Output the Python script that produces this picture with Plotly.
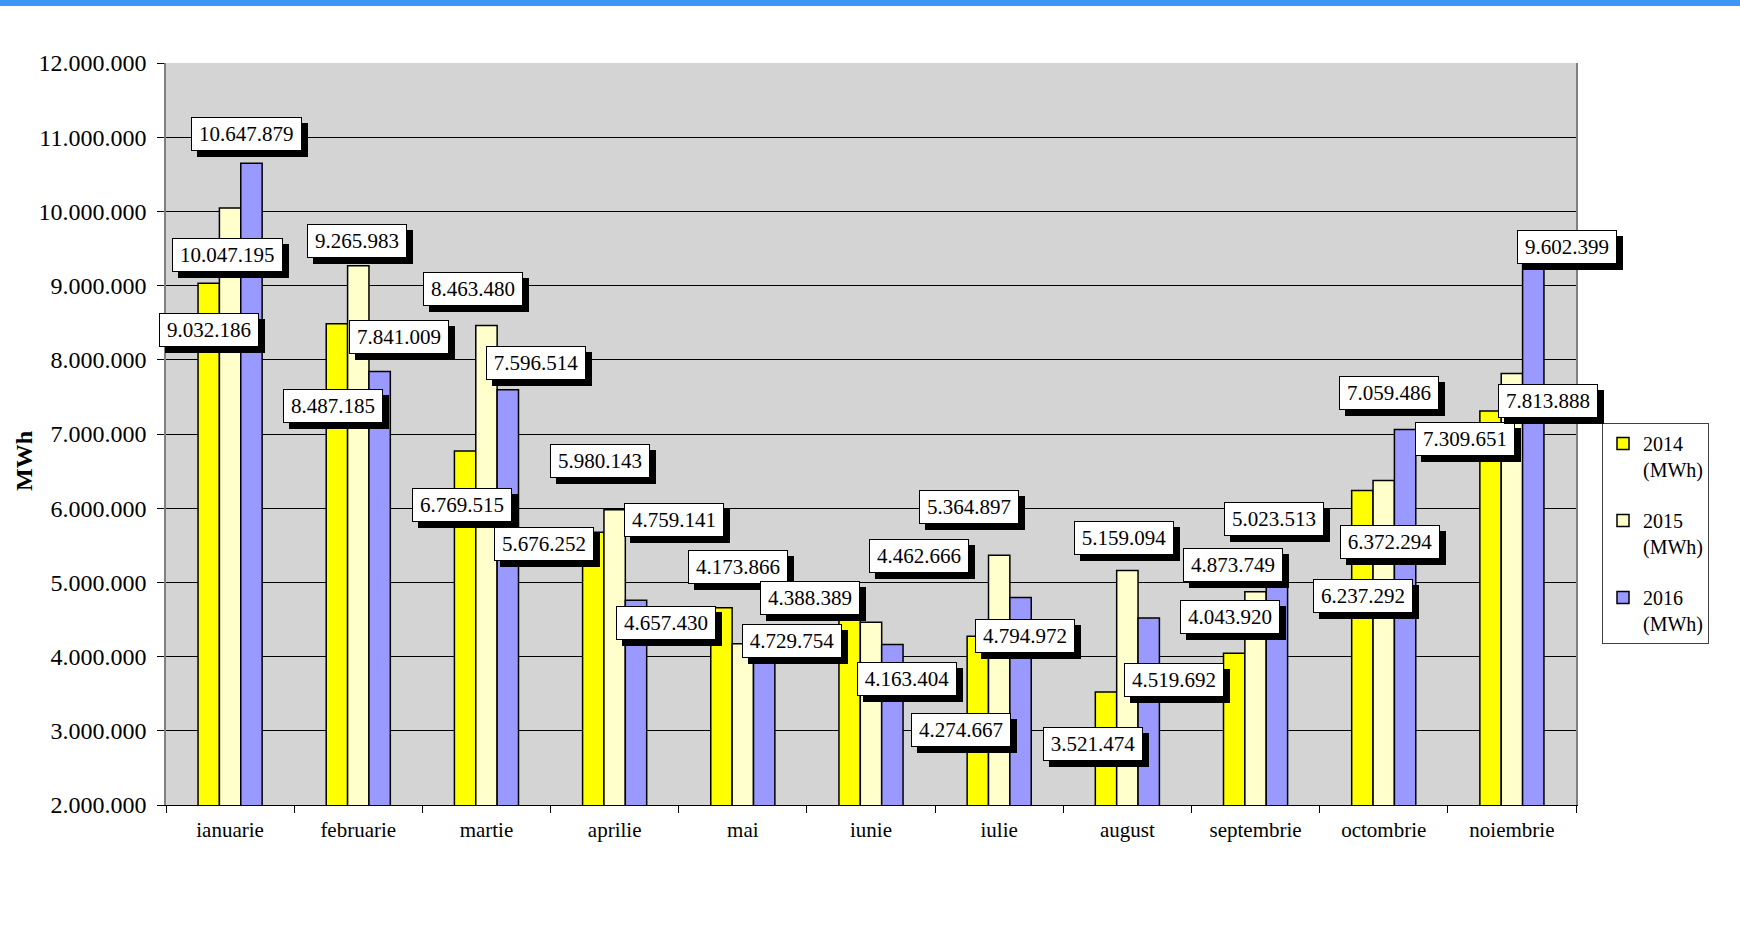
import plotly.graph_objects as go

# date
luni = ["ianuarie", "februarie", "martie", "aprilie", "mai", "iunie",
        "iulie", "august", "septembrie", "octombrie", "noiembrie"]
v2014 = [9032186, 8487185, 6769515, 5676252, 4657430, 4729754,
         4274667, 3521474, 4043920, 6237292, 7309651]
v2015 = [10047195, 9265983, 8463480, 5980143, 4173866, 4462666,
         5364897, 5159094, 4873749, 6372294, 7813888]
v2016 = [10647879, 7841009, 7596514, 4759141, 4388389, 4163404,
         4794972, 4519692, 5023513, 7059486, 9602399]
serii = ["2014<br>(MWh)", "2015<br>(MWh)", "2016<br>(MWh)"]
y_ticks = list(range(2000000, 12000001, 1000000))

# deplasarea etichetelor fata de varful barei (px)
shift2014 = [(0, -47), (-4, -82), (-3, -54), (-49, -12), (-55, -15), (-58, -39),
             (-17, -94), (-13, -52), (-4, 36), (1, -105), (-26, -28)]
shift2015 = [(-3, -47), (-1, 25), (-13, 36), (-15, 49), (-5, 77), (48, 66),
             (-30, 48), (-3, 33), (-23, 27), (6, -61), (36, -27)]
shift2016 = [(-5, 29), (19, 35), (28, 27), (38, 80), (46, 30), (15, -35),
             (4, -38), (25, -62), (-3, 62), (-16, 37), (34, -6)]

culori = ["#ffff00", "#ffffcc", "#9999ff"]
FONT = "Liberation Serif"
FS = 21

W, H = 1740, 928
ML, MR, MT, MB = 166, 164, 63, 123
BARGAP = 0.5
cat_px = (W - ML - MR) / len(luni)
bar_px = cat_px * (1 - BARGAP) / 3

fig = go.Figure()
for i, (nume, vals) in enumerate(zip(serii, [v2014, v2015, v2016])):
    fig.add_trace(go.Bar(
        x=luni, y=vals, name=nume, legendgroup=str(i),
        marker=dict(color=culori[i], line=dict(color="black", width=1.5)),
        hoverinfo="y",
    ))


def fmt(v):
    return f"{v:,}".replace(",", ".")


def latime(txt):
    # cifrele au 0.5em, punctele 0.25em in fontul serif
    n = sum(c.isdigit() for c in txt)
    return FS * (0.5 * n + 0.25 * (len(txt) - n)) + 6


annots = []
for i, (vals, shifts) in enumerate(zip([v2014, v2015, v2016], [shift2014, shift2015, shift2016])):
    off = (i - 1) * bar_px
    for luna, v, (dx, dy) in zip(luni, vals, shifts):
        txt = fmt(v)
        base = dict(x=luna, y=v, xref="x", yref="y", showarrow=False,
                    width=latime(txt), height=24,
                    borderpad=4, borderwidth=1, xanchor="center", yanchor="middle",
                    font=dict(family=FONT, size=FS, color="black"))
        # umbra
        annots.append(dict(base, text=" ", xshift=off + dx + 6, yshift=dy - 6,
                           bgcolor="black", bordercolor="black"))
        annots.append(dict(base, text=txt, xshift=off + dx, yshift=dy,
                           bgcolor="white", bordercolor="black"))

annots.append(dict(text="<b>MWh</b>", textangle=-90, xref="paper", yref="paper",
                   x=(24 - ML) / (W - ML - MR), y=1 - (461 - MT) / (H - MT - MB),
                   xanchor="center", yanchor="middle",
                   showarrow=False, font=dict(family=FONT, size=24, color="black")))

fig.update_layout(
    width=W, height=H,
    margin=dict(l=ML, r=MR, t=MT, b=MB, autoexpand=False),
    paper_bgcolor="white", plot_bgcolor="#d4d4d4",
    barmode="group", bargap=BARGAP, bargroupgap=0,
    separators=",.",
    font=dict(family=FONT, color="black"),
    annotations=annots,
    legend=dict(
        x=(1602 - ML) / (W - ML - MR), y=1 - (423 - MT) / (H - MT - MB),
        xanchor="left", yanchor="top",
        bgcolor="white", bordercolor="#404040", borderwidth=1,
        font=dict(family=FONT, size=20, color="black"),
        tracegroupgap=22, valign="top", itemwidth=30,
    ),
    shapes=[dict(type="rect", xref="paper", yref="paper",
                 x0=-ML / (W - ML - MR), x1=1 + MR / (W - ML - MR),
                 y0=1 + (MT - 6) / (H - MT - MB), y1=1 + MT / (H - MT - MB),
                 fillcolor="#3d97f5", line=dict(width=0), layer="above")],
)
fig.update_xaxes(
    range=[-0.5, len(luni) - 0.5], autorange=False,
    showline=True, linecolor="black", linewidth=1,
    ticks="outside", ticklen=7, tickcolor="black", tickson="boundaries",
    ticklabelstandoff=6,
    tickfont=dict(family=FONT, size=21, color="black"),
)
fig.update_yaxes(
    range=[2000000, 12000000], tickvals=y_ticks, tickformat=",d",
    showgrid=True, gridcolor="black", gridwidth=1,
    showline=True, linecolor="#808080", linewidth=1.5, mirror=True,
    ticks="outside", ticklen=7, tickcolor="black",
    ticklabelstandoff=6,
    tickfont=dict(family=FONT, size=24, color="black"),
    zeroline=False,
)

fig.write_html("out.html", config={"displayModeBar": False},
               post_script="document.body.style.margin='0';")
